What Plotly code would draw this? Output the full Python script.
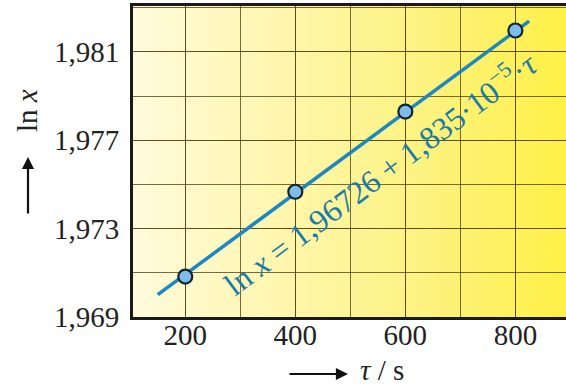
import base64
import plotly.graph_objects as go

# ---- data ----
tau = [200, 400, 600, 800]
lnx = [1.97083, 1.97467, 1.97830, 1.98197]
intercept = 1.96726
slope = 1.835e-5
fit_tau = [150, 825]
fit_lnx = [intercept + slope * t for t in fit_tau]

x_ticks = [200, 400, 600, 800]
x_ticktext = ["200", "400", "600", "800"]
y_ticks = [1.969, 1.973, 1.977, 1.981]
y_ticktext = ["1,969", "1,973", "1,977", "1,981"]

# ---- layout geometry ----
W, H = 566, 385
L, T, B, R = 133, 6, 68, 0
PW, PH = W - L - R, H - T - B

def px(x):
    return (x - L) / PW

def py(y):
    return (H - B - y) / PH

serif = "Liberation Serif, Times New Roman, serif"

# gradient background as SVG image
svg = (
    '<svg xmlns="http://www.w3.org/2000/svg" width="400" height="300" preserveAspectRatio="none">'
    '<defs><linearGradient id="g" x1="0" y1="0" x2="1" y2="0">'
    '<stop offset="0" stop-color="#fffbdc"/>'
    '<stop offset="0.35" stop-color="#fff6ac"/>'
    '<stop offset="0.7" stop-color="#fcf27c"/>'
    '<stop offset="1" stop-color="#fff046"/>'
    '</linearGradient></defs>'
    '<rect width="400" height="300" fill="url(#g)"/></svg>'
)
svg_uri = "data:image/svg+xml;base64," + base64.b64encode(svg.encode()).decode()

fig = go.Figure()

fig.add_trace(go.Scatter(
    x=fit_tau, y=fit_lnx, mode="lines",
    line=dict(color="#1b88c2", width=3.5),
    hoverinfo="skip", showlegend=False,
))
fig.add_trace(go.Scatter(
    x=tau, y=lnx, mode="markers",
    marker=dict(size=14, color="#7cbdee", line=dict(color="#15252d", width=2.2)),
    showlegend=False,
))

grid_col = "rgba(85,70,25,0.8)"

fig.update_layout(
    width=W, height=H,
    margin=dict(l=L, r=R, t=T, b=B),
    paper_bgcolor="white",
    plot_bgcolor="rgba(0,0,0,0)",
    images=[dict(
        source=svg_uri, xref="paper", yref="paper",
        x=0, y=1, sizex=1, sizey=1, xanchor="left", yanchor="top",
        sizing="stretch", layer="below",
    )],
    xaxis=dict(
        range=[105, 892],
        tickvals=x_ticks, ticktext=x_ticktext,
        showgrid=True, gridcolor=grid_col, gridwidth=1.3,
        minor=dict(dtick=100, tick0=0, showgrid=True, gridcolor=grid_col, gridwidth=1.3),
        showline=True, linecolor="#1a1a1a", linewidth=3, mirror=True,
        ticks="", zeroline=False, ticklabelstandoff=-10,
        tickfont=dict(family=serif, size=29, color="#222"),
    ),
    yaxis=dict(
        range=[1.969, 1.98308],
        tickvals=y_ticks, ticktext=y_ticktext,
        showgrid=True, gridcolor=grid_col, gridwidth=1.3,
        minor=dict(dtick=0.002, tick0=1.969, showgrid=True, gridcolor=grid_col, gridwidth=1.3),
        showline=True, linecolor="#1a1a1a", linewidth=3, mirror=False,
        ticks="", zeroline=False, ticklabelstandoff=5,
        tickfont=dict(family=serif, size=29, color="#222"),
    ),
    annotations=[
        # equation along the line
        dict(
            x=553, y=1.97555, xref="x", yref="y",
            text="ln <i>x</i> = 1,96726 + 1,835·10<sup>−5</sup>·<i>τ</i>",
            textangle=-36.8, showarrow=False,
            font=dict(family=serif, size=32, color="#1a7aa8"),
        ),
        # y title
        dict(
            x=px(27), y=py(111), xref="paper", yref="paper",
            xanchor="center", yanchor="middle",
            text="ln <i>x</i>", textangle=-90, showarrow=False,
            font=dict(family=serif, size=29, color="#222"),
        ),
        dict(
            x=px(28), y=py(157), xref="paper", yref="paper",
            ax=0, ay=58, showarrow=True, arrowhead=2, arrowsize=1.1,
            arrowwidth=2.2, arrowcolor="#111", text="",
        ),
        # x title
        dict(
            x=px(382), y=py(370), xref="paper", yref="paper",
            xanchor="center", yanchor="middle",
            text="<i>τ</i> / s", showarrow=False,
            font=dict(family=serif, size=29, color="#222"),
        ),
        dict(
            x=px(348), y=py(374), xref="paper", yref="paper",
            ax=-60, ay=0, showarrow=True, arrowhead=2, arrowsize=1.1,
            arrowwidth=2.2, arrowcolor="#111", text="",
        ),
    ],
)

fig.write_html(
    "out.html",
    config={"displayModeBar": False},
    post_script="document.body.style.margin='0';document.body.style.overflow='hidden';",
)
